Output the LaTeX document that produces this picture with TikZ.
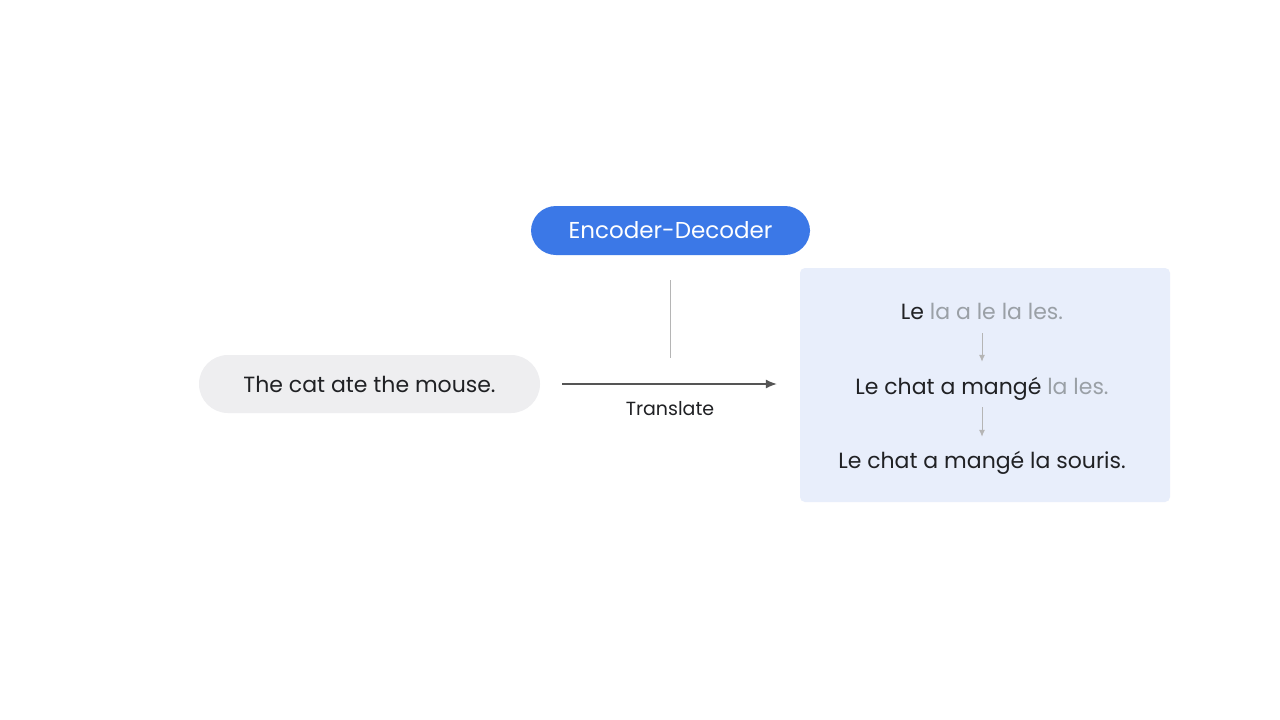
\documentclass[tikz,border=0pt]{standalone}
\usepackage{fontspec}
\setmainfont{Poppins}
\usepackage{tikz}
\usetikzlibrary{arrows.meta}
\definecolor{encblue}{HTML}{3B78E7}
\definecolor{pillgray}{HTML}{EEEEF0}
\definecolor{boxblue}{HTML}{E8EEFB}
\definecolor{txtdark}{HTML}{202124}
\definecolor{txtgray}{HTML}{9AA0A6}
\definecolor{arrgray}{HTML}{555555}
\definecolor{linegray}{HTML}{B5B5B5}
\newcommand{\faded}[1]{\textcolor{txtgray}{#1}}

\begin{document}
\begin{tikzpicture}[x=1pt, y=-1pt,
    pill/.style = {rounded corners=25pt, inner sep=0pt},
    sent/.style = {font=\fontsize{22}{26}\selectfont, text=txtdark, inner sep=0pt, text height=18pt, text depth=2pt},
    small/.style = {font=\fontsize{19}{22}\selectfont, text=txtdark},
    steparrow/.style = {-{Latex[length=7pt, width=6pt]}, linegray, line width=1pt}]
    \useasboundingbox[fill=white] (0,0) rectangle (1280,720);
        \node[pill, fill=encblue, minimum width=279pt, minimum height=49pt, text=white,
              font=\fontsize{23}{27}\selectfont] (enc) at (670.5,230.5) {Encoder-Decoder};
        \node[pill, fill=pillgray, minimum width=341pt, minimum height=58pt, rounded corners=29pt] (input) at (369.5,384) {};
        \node[sent] (inputtxt) at (input.center) {The cat ate the mouse.};
        \node[fill=boxblue, rounded corners=5pt, minimum width=370pt, minimum height=234pt, inner sep=0pt] (output) at (985,385) {};
        \node[sent] (l1) at (982,311) {Le \faded{la a le la les.}};
        \node[sent] (l2) at (982,386) {Le chat a mangé \faded{la les.}};
        \node[sent] (l3) at (982,460) {Le chat a mangé la souris.};
        \coordinate (lineend) at (670.5,358);
        \draw[linegray, line width=1.2pt, shorten <=25pt] (enc.south) -- (lineend);
        \draw[-{Latex[length=11pt, width=9pt]}, arrgray, line width=1.2pt, shorten <=22pt, shorten >=23pt]
            (input.east) -- node[small, below=14pt] {Translate} (input.east -| output.west);
        \draw[steparrow, shorten <=12pt, shorten >=14pt] (l1.south) -- (l2.north);
        \draw[steparrow, shorten <=11pt, shorten >=13pt] (l2.south) -- (l3.north);
    \end{tikzpicture}
\end{document}
